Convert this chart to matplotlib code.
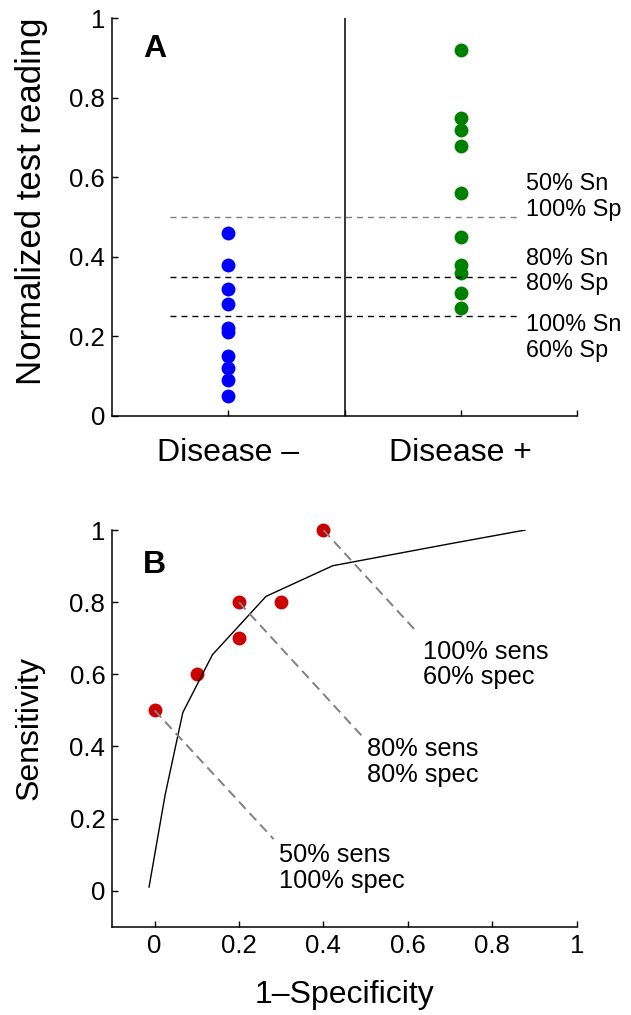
import numpy as np
import matplotlib
matplotlib.use("Agg")
import matplotlib.pyplot as plt

plt.rcParams['font.family'] = ['Liberation Sans', 'DejaVu Sans']

# panel A data: normalized readings for each group
neg_vals = [0.46, 0.38, 0.32, 0.28, 0.22, 0.21, 0.15, 0.12, 0.09, 0.05]
pos_vals = [0.92, 0.75, 0.72, 0.68, 0.56, 0.45, 0.38, 0.36, 0.31, 0.27]
group_x = [0.5, 1.5]
group_labels = ['Disease \u2013', 'Disease +']
cutoffs = [0.5, 0.35, 0.25]
cutoff_colors = ['#7f7f7f', 'black', 'black']
cutoff_text = ['50% Sn\n100% Sp', '80% Sn\n80% Sp', '100% Sn\n60% Sp']
cutoff_text_y = [0.551, 0.364, 0.197]

# panel B data: operating points and the smooth ROC curve
op_fpr = [0.0, 0.1, 0.2, 0.2, 0.3, 0.4]
op_sens = [0.5, 0.6, 0.7, 0.8, 0.8, 1.0]
roc_x = [-0.013, 0.025, 0.067, 0.137, 0.264, 0.422, 0.7, 0.878]
roc_y = [0.01, 0.265, 0.494, 0.654, 0.816, 0.901, 0.962, 1.0]
# callouts: which point, where the leader ends, where the text sits
call_fpr = [0.0, 0.2, 0.4]
call_sens = [0.5, 0.8, 1.0]
call_end_x = [0.282, 0.495, 0.62]
call_end_y = [0.143, 0.424, 0.719]
call_text = ['50% sens\n100% spec', '80% sens\n80% spec', '100% sens\n60% spec']
call_text_x = [0.294, 0.503, 0.637]
call_text_y = [0.064, 0.357, 0.627]

ticks01 = [0, 0.2, 0.4, 0.6, 0.8, 1]
tick_labels01 = ['0', '0.2', '0.4', '0.6', '0.8', '1']

fig = plt.figure(figsize=(6.31, 10.15), dpi=100)
axA = fig.add_axes([0.1775, 0.5904, 0.737, 0.3915])
axB = fig.add_axes([0.178, 0.087, 0.736, 0.3908])

for ax in (axA, axB):
    ax.spines['top'].set_visible(False)
    ax.spines['right'].set_visible(False)
    ax.spines['left'].set_linewidth(1.1)
    ax.spines['bottom'].set_linewidth(1.1)
    ax.tick_params(direction='in', length=4, width=1, labelsize=18.5, pad=5)

# ---- panel A ----
axA.plot([group_x[0]] * len(neg_vals), neg_vals, 'o', color='#0000ff', ms=10, mec='none', zorder=2)
axA.plot([group_x[1]] * len(pos_vals), pos_vals, 'o', color='#008000', ms=10, mec='none', zorder=2)
axA.plot([1, 1], [0, 1], color='black', lw=1.1, zorder=3)
for c, col in zip(cutoffs, cutoff_colors):
    axA.plot([0.25, 1.75], [c, c], color=col, lw=1.0, dashes=(4.3, 3.6), zorder=3)
for t, ty in zip(cutoff_text, cutoff_text_y):
    axA.text(1.78, ty, t, fontsize=16.8, ha='left', va='center', linespacing=1.15)
axA.text(0.185, 0.924, 'A', fontsize=23, fontweight='bold', ha='center', va='center')
axA.set_xlim(0, 2)
axA.set_ylim(0, 1)
axA.set_xticks([0.5, 1, 1.5, 2])
axA.set_xticklabels([group_labels[0], '', group_labels[1], ''], fontsize=23)
axA.tick_params(axis='x', pad=16)
axA.set_yticks(ticks01)
axA.set_yticklabels(tick_labels01)
axA.set_ylabel('Normalized test reading', fontsize=25)
axA.yaxis.set_label_coords(-0.138, 0.54)

# ---- panel B ----
axB.plot(op_fpr, op_sens, 'o', color='#cc0000', ms=10, mec='none', clip_on=False, zorder=2)
axB.plot(roc_x, roc_y, color='black', lw=1.0, zorder=3)
for i in range(len(call_text)):
    axB.plot([call_fpr[i], call_end_x[i]], [call_sens[i], call_end_y[i]],
             color='#808080', lw=1.4, dashes=(5, 3), zorder=3, clip_on=False)
    axB.text(call_text_x[i], call_text_y[i], call_text[i], fontsize=18.3,
             ha='left', va='center', linespacing=1.1)
axB.text(0.0, 0.903, 'B', fontsize=23, fontweight='bold', ha='center', va='center')
axB.set_xlim(-0.1, 1)
axB.set_ylim(-0.1, 1)
axB.set_xticks(ticks01)
axB.set_xticklabels(tick_labels01)
axB.set_yticks(ticks01)
axB.set_yticklabels(tick_labels01)
axB.set_xlabel('1\u2013Specificity', fontsize=23, labelpad=16)
axB.set_ylabel('Sensitivity', fontsize=23)
axB.yaxis.set_label_coords(-0.145, 0.5)

fig.savefig('out.png', dpi=100)
